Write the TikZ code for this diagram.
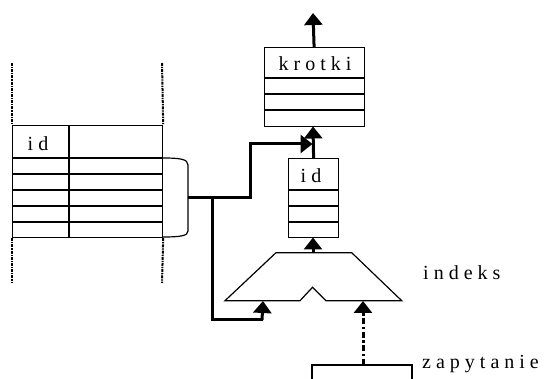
\documentclass[tikz,border=0pt]{standalone}
\usepackage{fontspec}
\setmainfont{Liberation Serif}
\usetikzlibrary{arrows.meta}
\newcommand{\spaced}[1]{{\addfontfeatures{LetterSpace=25}#1}}
\tikzset{
  thin line/.style={line width=1.2pt},
  flow/.style={line width=3pt, -{Triangle[width=18pt,length=12pt]}},
  flow plain/.style={line width=3pt},
  query flow/.style={line width=3pt, dash pattern=on 6pt off 2.5pt on 2.5pt off 2.5pt, -{Triangle[width=18pt,length=12pt]}},
  border/.style={line width=2pt, dash pattern=on 3pt off 1pt on 1.2pt off 1pt},
  lbl/.style={font=\fontsize{20}{22}\selectfont, inner sep=0pt},
  tbox/.style={draw, thin line, inner sep=0pt, anchor=north west},
}
\begin{document}
\begin{tikzpicture}[x=1pt, y=-1pt]
\useasboundingbox (0,0) rectangle (555,379);

% relation (left table) with its boundary marks
\node[tbox, minimum width=150pt, minimum height=112pt] (rel) at (12,125) {};
\foreach \yy in {158,174,190,206,222}
  \draw[thin line] (12,\yy) -- (162,\yy);
\draw[thin line] (69,125) -- (69,237);
\node[lbl] (relid) at (38,144) {\spaced{id}};
\draw[border] (12,63) -- (rel.north west);
\draw[border] (162,63) -- (rel.north east);
\draw[border] (rel.south west) -- (12,283);
\draw[border] (rel.south east) -- (162,283);

% brace grouping the selected rows
\coordinate (brtip) at (188,197.7);
\draw[thin line] (162,158) .. controls (180,158) and (188,159) .. (188,165)
  -- (188,231) .. controls (188,236) and (180,237) .. (162,237);

% result table
\node[tbox, minimum width=100pt, minimum height=79pt] (krotki) at (263.5,47) {};
\foreach \yy in {78,94,110}
  \draw[thin line] (263.5,\yy) -- (363.5,\yy);
\node[lbl] (krotkilbl) at (315,64) {\spaced{krotki}};
\coordinate (out) at (313,13);

% list of ids
\node[tbox, minimum width=50pt, minimum height=79pt] (ids) at (288,158) {};
\foreach \yy in {190,206,222}
  \draw[thin line] (288,\yy) -- (338,\yy);
\node[lbl] (idslbl) at (311,176) {\spaced{id}};

% index
\draw[thin line] (225,300.7) -- (276,252.7) -- (351.7,252.7) -- (401.7,300.7)
  -- (326,300.7) -- (312.5,287.3) -- (300,300.7) -- cycle;
\coordinate (idxtop) at (313,252.7);
\coordinate (idxin) at (263,301);
\coordinate (idxq) at (363,301);
\node[lbl, anchor=west] (idxlbl) at (423,273) {\spaced{indeks}};

% query
\draw[thin line] (312,379) -- (312,365) -- (412,365) -- (412,379);
\coordinate (query) at (363,365);
\node[lbl, anchor=west] (querylbl) at (422,364) {\spaced{zapytanie}};

% connectors
\draw[flow] (krotki.north) -- (out);
\draw[flow] (ids.north) -- (313,126.5);
\draw[flow] (idxtop) -- (313,237.5);
\draw[flow] (brtip) -- (250,197.7) -- (250,144) -- (312.5,144);
\draw[flow plain] (212,197.7) -- (212,320) -- (263,320);
\draw[flow] (262,320) -- (idxin);
\draw[query flow] (query) -- (idxq);
\end{tikzpicture}
\end{document}
